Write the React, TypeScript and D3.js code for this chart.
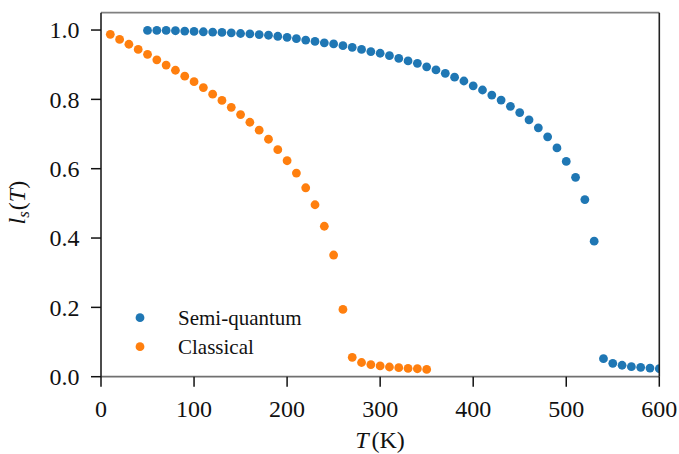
import React from "react";
import * as d3 from "d3";

const semiT = [50,60,70,80,90,100,110,120,130,140,150,160,170,180,190,200,210,220,230,240,250,260,270,280,290,300,310,320,330,340,350,360,370,380,390,400,410,420,430,440,450,460,470,480,490,500,510,520,530,540,550,560,570,580,590,600];
const semiL = [0.999,0.999,0.999,0.998,0.997,0.996,0.995,0.994,0.993,0.992,0.990,0.989,0.987,0.985,0.982,0.979,0.975,0.971,0.967,0.963,0.960,0.955,0.950,0.944,0.938,0.933,0.926,0.918,0.911,0.904,0.894,0.885,0.875,0.864,0.853,0.839,0.827,0.8125,0.798,0.780,0.762,0.741,0.718,0.692,0.660,0.621,0.575,0.511,0.391,0.052,0.0385,0.033,0.029,0.027,0.025,0.023];

const classT = [10,20,30,40,50,60,70,80,90,100,110,120,130,140,150,160,170,180,190,200,210,220,230,240,250,260,270,280,290,300,310,320,330,340,350];
const classL = [0.9875,0.973,0.959,0.944,0.930,0.914,0.899,0.884,0.867,0.851,0.834,0.815,0.797,0.777,0.756,0.734,0.711,0.685,0.655,0.623,0.5875,0.545,0.496,0.434,0.351,0.194,0.056,0.041,0.035,0.031,0.028,0.026,0.024,0.023,0.021];

const xTicks = [0,100,200,300,400,500,600];
const yTicks = [0.0,0.2,0.4,0.6,0.8,1.0];
const seriesNames = ["Semi-quantum", "Classical"];
const colors = ["#1f77b4", "#ff7f0e"];

const W = 679, H = 454;
const L = 101, R = 659.3, T = 12.7, B = 376.7;

export default function App() {
  const x = d3.scaleLinear().domain([0, 600]).range([L, R]);
  const y = d3.scaleLinear().domain([0, 1.05]).range([B, T]);
  const ts = (size: number) => ({ fontFamily: "Liberation Serif", fontSize: size + "px" });
  const series = [
    { t: semiT, l: semiL, c: colors[0] },
    { t: classT, l: classL, c: colors[1] },
  ];
  return (
    <svg width={W} height={H} style={{ position: "absolute", left: 0, top: 0, background: "#fff" }}>
      <defs>
        <clipPath id="plotclip">
          <rect x={L} y={T} width={R - L} height={B - T} />
        </clipPath>
      </defs>
      <rect x={0} y={0} width={W} height={H} fill="#fff" />
      <g clipPath="url(#plotclip)">
        {series.map((s, si) =>
          s.t.map((tv, i) => (
            <circle key={si + "-" + i} cx={x(tv)} cy={y(s.l[i])} r={4.4} fill={s.c} />
          ))
        )}
      </g>
      {/* spines */}
      <line x1={L} x2={R} y1={T} y2={T} stroke="#808080" strokeWidth={1.8} />
      <line x1={L} x2={R} y1={B} y2={B} stroke="#707070" strokeWidth={1.8} />
      <line x1={L} x2={L} y1={T} y2={B} stroke="#111" strokeWidth={1.5} />
      <line x1={R} x2={R} y1={T} y2={B} stroke="#222" strokeWidth={1.6} />
      {/* x ticks */}
      {xTicks.map((tv) => (
        <g key={"x" + tv}>
          <line x1={x(tv)} x2={x(tv)} y1={B} y2={B + 10} stroke="#111" strokeWidth={1.5} />
          <text style={ts(24)} x={x(tv)} y={416.5} textAnchor="middle" fill="#111">{String(tv)}</text>
        </g>
      ))}
      {/* y ticks */}
      {yTicks.map((tv) => (
        <g key={"y" + tv}>
          <line x1={L - 10} x2={L} y1={y(tv)} y2={y(tv)} stroke="#111" strokeWidth={1.5} />
          <text style={ts(24)} x={79.5} y={y(tv) + 8.4} textAnchor="end" fill="#111">{tv.toFixed(1)}</text>
        </g>
      ))}
      {/* x label */}
      <text style={ts(24)} x={380} y={448} textAnchor="middle" fill="#111">
        <tspan fontStyle="italic">T</tspan>
        <tspan dx={3}>(K)</tspan>
      </text>
      {/* y label */}
      <text style={ts(24)} transform={`translate(25,${(T + B) / 2 + 8}) rotate(-90)`} textAnchor="middle" fill="#111">
        <tspan fontStyle="italic">l</tspan>
        <tspan fontStyle="italic" style={{ fontSize: "17px" }} dy={4}>s</tspan>
        <tspan dy={-4} dx={1}>(</tspan>
        <tspan fontStyle="italic">T</tspan>
        <tspan>)</tspan>
      </text>
      {/* legend */}
      {seriesNames.map((n, i) => (
        <g key={n}>
          <circle cx={140} cy={317.7 + i * 29} r={4.4} fill={colors[i]} />
          <text style={ts(21)} x={178} y={317.7 + i * 29 + 6.8} fill="#111">{n}</text>
        </g>
      ))}
    </svg>
  );
}
